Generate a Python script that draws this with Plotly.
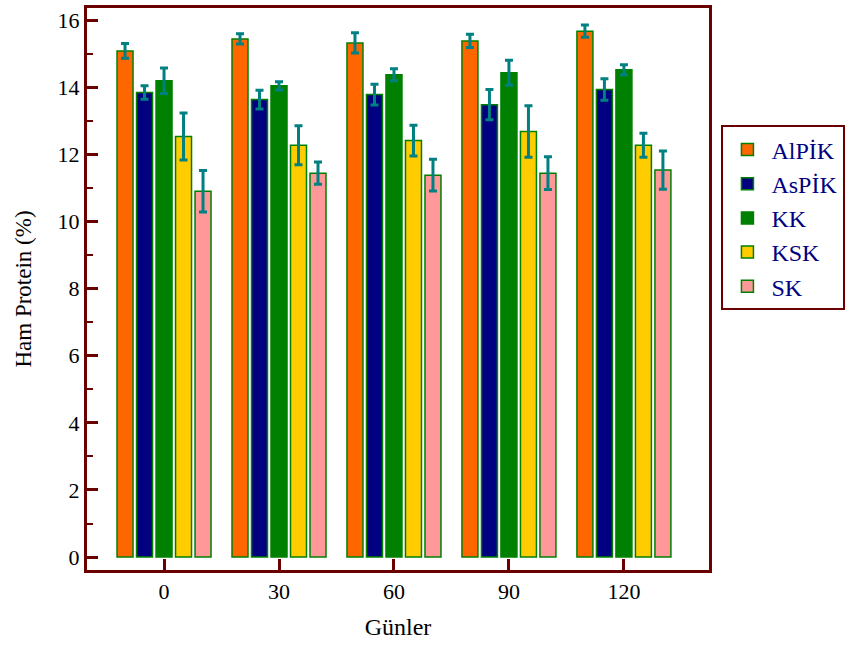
import plotly.graph_objects as go

days = ["0", "30", "60", "90", "120"]
series_names = ["AlPİK", "AsPİK", "KK", "KSK", "SK"]
alpik = [15.08, 15.44, 15.32, 15.38, 15.67]
alpik_err = [0.22, 0.15, 0.30, 0.20, 0.18]
aspik = [13.84, 13.63, 13.78, 13.48, 13.93]
aspik_err = [0.20, 0.28, 0.31, 0.45, 0.32]
kk = [14.19, 14.04, 14.37, 14.43, 14.52]
kk_err = [0.38, 0.12, 0.18, 0.37, 0.15]
ksk = [12.53, 12.27, 12.41, 12.68, 12.27]
ksk_err = [0.70, 0.58, 0.46, 0.77, 0.36]
sk = [10.90, 11.44, 11.38, 11.44, 11.53]
sk_err = [0.62, 0.33, 0.47, 0.49, 0.57]

values = [alpik, aspik, kk, ksk, sk]
errors = [alpik_err, aspik_err, kk_err, ksk_err, sk_err]
colors = ["#FF6600", "#000080", "#008000", "#FFCC00", "#FF9999"]

frame = "#6B0000"
font = "Liberation Serif, Times New Roman, serif"
xpos = list(range(len(days)))

fig = go.Figure()
for name, vals, errs, col in zip(series_names, values, errors, colors):
    fig.add_trace(go.Bar(
        x=xpos, y=vals, name=name,
        marker=dict(color=col, line=dict(color="#008000", width=1.5)),
        error_y=dict(type="data", array=errs, visible=True,
                     color="#008080", thickness=3, width=4),
    ))

fig.update_layout(
    width=853, height=646,
    margin=dict(l=87, r=144, t=5, b=76),
    paper_bgcolor="white", plot_bgcolor="white",
    barmode="group", bargap=0.152, bargroupgap=0.18,
    font=dict(family=font, size=22, color="black"),
    showlegend=True,
    legend=dict(
        x=1.02, y=0.6265, xanchor="left", yanchor="middle",
        bordercolor=frame, borderwidth=2,
        font=dict(family=font, size=24, color="#000080"),
        tracegroupgap=0, itemwidth=38,
    ),
)
fig.update_xaxes(
    range=[-0.67, 4.74], tickmode="array", tickvals=xpos, ticktext=days,
    showline=True, mirror=True, linecolor=frame, linewidth=3,
    ticks="inside", ticklen=11, tickwidth=3, tickcolor=frame,
    showgrid=False, zeroline=False,
    title=dict(text="Günler", font=dict(family=font, size=24), standoff=15),
)
fig.update_yaxes(
    range=[-0.385, 16.36], tickmode="linear", tick0=0, dtick=2,
    showline=True, mirror=True, linecolor=frame, linewidth=3,
    ticks="inside", ticklen=11, tickwidth=3, tickcolor=frame,
    minor=dict(dtick=1, ticks="inside", ticklen=6, tickwidth=2, tickcolor=frame, showgrid=False),
    showgrid=False, zeroline=False,
    title=dict(text="Ham Protein (%)", font=dict(family=font, size=23), standoff=20),
)

fig.write_html("out.html")
